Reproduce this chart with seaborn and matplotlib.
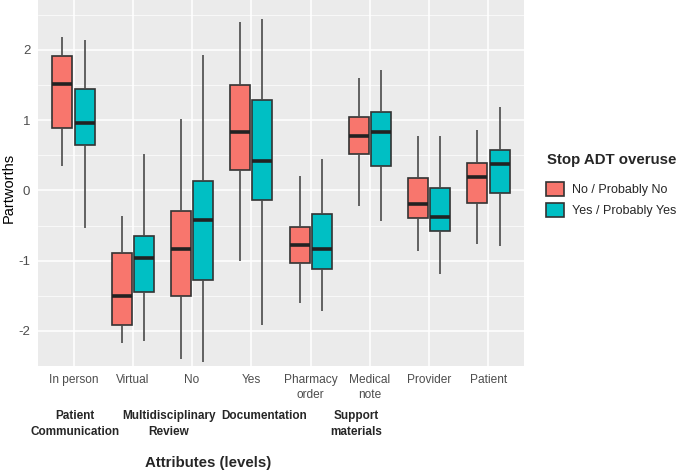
"""Partworths by attribute level, split by stance on stopping ADT overuse."""

import numpy as np
import pandas as pd
import matplotlib
matplotlib.use("Agg")
import matplotlib.pyplot as plt
import seaborn as sns

levels = ["In person", "Virtual", "No", "Yes", "Pharmacy\norder",
          "Medical\nnote", "Provider", "Patient"]
groups = ["No / Probably No", "Yes / Probably Yes"]
attributes = ["Patient\nCommunication", "Multidisciplinary\nReview",
              "Documentation", "Support\nmaterials"]

# five-number summaries
no_min = [0.35, -2.17, -2.40, -1.01, -1.61, -0.22, -0.86, -0.77]
no_q1  = [0.89, -1.91, -1.50, 0.29, -1.04, 0.52, -0.39, -0.18]
no_med = [1.51, -1.51, -0.83, 0.83, -0.78, 0.78, -0.19, 0.19]
no_q3  = [1.91, -0.89, -0.29, 1.50, -0.52, 1.04, 0.18, 0.39]
no_max = [2.18, -0.36, 1.01, 2.40, 0.21, 1.60, 0.77, 0.86]

yes_min = [-0.53, -2.14, -2.44, -1.91, -1.72, -0.44, -1.19, -0.79]
yes_q1  = [0.65, -1.44, -1.27, -0.14, -1.12, 0.34, -0.58, -0.04]
yes_med = [0.96, -0.96, -0.42, 0.42, -0.83, 0.83, -0.38, 0.38]
yes_q3  = [1.44, -0.65, 0.14, 1.28, -0.34, 1.12, 0.04, 0.57]
yes_max = [2.14, 0.52, 1.92, 2.44, 0.44, 1.72, 0.78, 1.18]

# five points per box -> quartiles land exactly on the summary values
rows = []
for grp, stats in zip(groups, [(no_min, no_q1, no_med, no_q3, no_max),
                               (yes_min, yes_q1, yes_med, yes_q3, yes_max)]):
    for i, lev in enumerate(levels):
        for s in stats:
            rows.append({"level": lev, "group": grp, "value": s[i]})
df = pd.DataFrame(rows)

sns.set_theme(style="darkgrid", rc={
    "axes.facecolor": "#EBEBEB", "grid.color": "white",
    "axes.edgecolor": "#EBEBEB", "axes.unicode_minus": False,
})
plt.rcParams["font.family"] = ["Liberation Sans", "DejaVu Sans"]

fig = plt.figure(figsize=(6.85, 4.74), dpi=100)
ax = fig.add_axes([38 / 685, 1 - 366 / 474, 486 / 685, 366 / 474])

sns.boxplot(data=df, x="level", y="value", hue="group", order=levels,
            hue_order=groups, palette=["#F8766D", "#00BFC4"], saturation=1,
            whis=(0, 100), width=0.75, gap=0.1, showcaps=False,
            linecolor="#333333", linewidth=1.2,
            medianprops=dict(linewidth=2.6, color="#222222"),
            whiskerprops=dict(color="#4a4a4a"), ax=ax)

ax.set_xlim(-0.6, 7.6)
ax.set_ylim(-2.5, 2.71)
ax.set_yticks([-2, -1, 0, 1, 2])
ax.set_yticks([-2.5, -1.5, -0.5, 0.5, 1.5, 2.5], minor=True)
ax.grid(which="major", color="white", linewidth=1.1)
ax.grid(which="minor", axis="y", color="white", linewidth=0.5)
ax.set_axisbelow(True)
for s in ax.spines.values():
    s.set_visible(False)

ax.tick_params(axis="both", which="major", length=3.5, width=0.8,
               color="#333333", labelcolor="#4D4D4D", labelsize=8.6, pad=2)
ax.tick_params(axis="y", which="major", labelsize=9.5)
ax.tick_params(axis="both", which="minor", length=0)
ax.set_xlabel("")
ax.set_ylabel("")
for lab in ax.get_xticklabels():
    lab.set_linespacing(1.35)
fig.text(9 / 685, 1 - 188 / 474, "Partworths", rotation=90, ha="center",
         va="center", fontsize=10.5, color="black")

sns.move_legend(ax, "upper left", bbox_to_anchor=(1.0226, 0.533),
                frameon=False, title=None, fontsize=9,
                handlelength=1.45, handleheight=1.3,
                labelspacing=0.55, handletextpad=0.6)
fig.text(547 / 685, 1 - 160 / 474, "Stop ADT overuse", ha="left",
         va="center", fontsize=10.8, fontweight="bold")

for lab, xc in zip(attributes, [75, 169, 264, 356]):
    fig.text(xc / 685, 1 - 410 / 474, lab, ha="center", va="top",
             fontsize=8.5, fontweight="bold", linespacing=1.4)
fig.text(208 / 685, 1 - 463 / 474, "Attributes (levels)", ha="center",
         va="center", fontsize=10.8, fontweight="bold")

fig.savefig("out.png", dpi=100)
